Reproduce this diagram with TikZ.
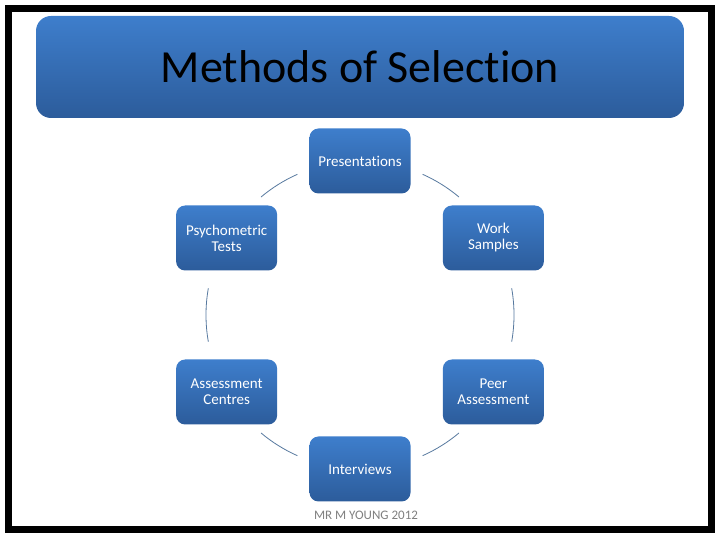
\documentclass[tikz,border=0pt]{standalone}
\usepackage{fontspec}
\setmainfont{Carlito}[Ligatures=NoCommon]
\definecolor{SELtop}{HTML}{3E7ECC}
\definecolor{SELbottom}{HTML}{2C5C9B}
\definecolor{SELline}{HTML}{56789E}
\definecolor{SELgray}{HTML}{7F7F7F}
\usetikzlibrary{calc, positioning}

\begin{document}
\begin{tikzpicture}[x=1pt, y=1pt,
      method/.style={rounded corners=9pt, top color=SELtop, bottom color=SELbottom,
         minimum width=101pt, minimum height=65pt, text=white, align=center,
         font=\fontsize{15}{16}\selectfont},
      link/.style={SELline, line width=0.8pt}]
            \useasboundingbox (0,0) rectangle (720,540);
            % Frame
            \draw[line width=7pt] (8,531) rectangle (711,10);
            % Title bar
            \node[rounded corners=15pt, top color=SELtop, bottom color=SELbottom,
               minimum width=648pt, minimum height=102pt,
               font=\fontsize{46}{50}\selectfont] (title) at (360,473) {Methods of Selection};
            % Cycle of methods
            \coordinate (c) at (360,225);
            \node[method] (pres)  at ($(c)+(90:154)$)  {Presentations};
            \node[method] (psych) at ($(c)+(150:154)$) {Psychometric\\Tests};
            \node[method, text depth=3pt] (work)  at ($(c)+(30:154)$)  {Work\\Samples};
            \node[method] (centre) at ($(c)+(210:154)$) {Assessment\\Centres};
            \node[method] (peer)  at ($(c)+(330:154)$) {Peer\\Assessment};
            \node[method] (inter) at ($(c)+(270:154)$) {Interviews};
            % Arcs between the boxes
            \foreach \a/\d in {114/16, 170/20, 230/16, 294/16, 350/20, 50/16}
               \draw[link] ($(c)+(\a:154)$) arc[start angle=\a, delta angle=\d, radius=154];
            % Footer
            \node[SELgray, font=\fontsize{13}{15}\selectfont, below=6pt of inter.south, xshift=6pt] (foot) {MR M YOUNG 2012};
         \end{tikzpicture}
\end{document}
